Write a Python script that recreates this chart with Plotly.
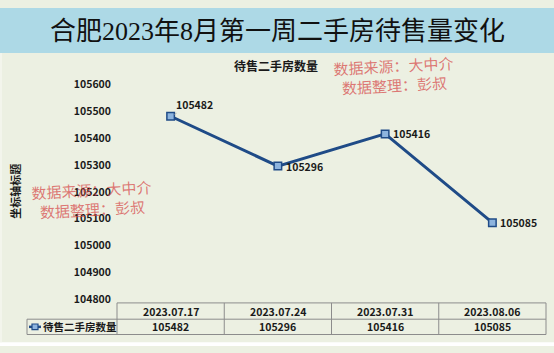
import plotly.graph_objects as go

# ---- data ----
dates = ["2023.07.17", "2023.07.24", "2023.07.31", "2023.08.06"]
values = [105482, 105296, 105416, 105085]
series_name = "待售二手房数量"
title_text = "合肥2023年8月第一周二手房待售量变化"
chart_title = "待售二手房数量"
y_title = "坐标轴标题"
watermark = "数据来源：大中介<br>数据整理：彭叔"
y_ticks = [104800, 104900, 105000, 105100, 105200, 105300, 105400, 105500, 105600]

W, H = 554, 353
def px(x):
    return x / W
def py(y):
    return 1 - y / H

BG = "#ECF0E2"
BANNER = "#ADD9E6"
LINE = "#1F4B87"
MARK = "#8DB4DE"
GRID = "#8C8C8C"
FONT = "Noto Sans CJK SC"

x_left, x_right = 117, 546
y_top, y_bot = 80, 304

fig = go.Figure()
fig.add_trace(go.Scatter(
    x=list(range(len(values))), y=values, mode="lines+markers",
    line=dict(color=LINE, width=3),
    marker=dict(symbol="square", size=7.5, color=MARK, line=dict(color=LINE, width=1.5)),
    showlegend=False, hoverinfo="skip",
))

annotations = []
# data labels
for i, v in enumerate(values):
    if i == 0:
        annotations.append(dict(x=i, y=v, xref="x", yref="y", text=str(v), showarrow=True,
                                arrowhead=0, arrowwidth=0.7, arrowcolor="#A6A6A6",
                                ax=24, ay=-12, standoff=4,
                                font=dict(family=FONT, size=10.5, color="#1A1A1A", weight="bold")))
    else:
        annotations.append(dict(x=i, y=v, xref="x", yref="y", text=str(v), showarrow=False,
                                xanchor="left", xshift=6,
                                font=dict(family=FONT, size=10.5, color="#1A1A1A", weight="bold")))

# title
annotations.append(dict(x=0.5, y=py(25), xref="paper", yref="paper", text=title_text,
                        showarrow=False, xanchor="center", yanchor="middle",
                        font=dict(family="Liberation Serif, " + FONT, size=26, color="#111111")))
# chart title
annotations.append(dict(x=px(276), y=py(60), xref="paper", yref="paper", text=chart_title,
                        showarrow=False, xanchor="center", yanchor="middle",
                        font=dict(family=FONT, size=12, color="#1A1A1A", weight="bold")))
# y axis title
annotations.append(dict(x=px(15), y=py(192), xref="paper", yref="paper", text=y_title,
                        showarrow=False, textangle=-90, xanchor="center", yanchor="middle",
                        font=dict(family=FONT, size=11, color="#1A1A1A", weight="bold")))
# watermarks
for cx, cy in [(394, 72), (92, 202)]:
    annotations.append(dict(x=px(cx), y=py(cy), xref="paper", yref="paper", text=watermark,
                            showarrow=False, xanchor="center", yanchor="middle", align="center",
                            textangle=-3,
                            font=dict(family="Liberation Serif, " + FONT, size=15,
                                      color="rgba(214,72,72,0.72)")))

# table
col_w = (x_right - x_left) / len(dates)
t_top, t_mid, t_bot = 308, 325, 341
label_left = 27
shapes = []
shapes.append(dict(type="rect", xref="paper", yref="paper", x0=0, x1=1, y0=py(47), y1=1,
                   fillcolor=BANNER, line=dict(width=0), layer="below"))
shapes.append(dict(type="rect", xref="paper", yref="paper", x0=0, x1=1, y0=0, y1=py(349),
                   fillcolor="#FFFFFF", line=dict(width=0), layer="below"))
shapes.append(dict(type="rect", xref="paper", yref="paper", x0=0, x1=px(2), y0=py(349), y1=py(47),
                   fillcolor="#F3F5EC", line=dict(width=0), layer="below"))
lc = dict(color=GRID, width=1)
shapes.append(dict(type="line", xref="paper", yref="paper", x0=px(x_left), x1=px(x_right), y0=py(t_top), y1=py(t_top), line=lc))
shapes.append(dict(type="line", xref="paper", yref="paper", x0=px(label_left), x1=px(x_right), y0=py(t_mid), y1=py(t_mid), line=lc))
shapes.append(dict(type="line", xref="paper", yref="paper", x0=px(label_left), x1=px(x_right), y0=py(t_bot), y1=py(t_bot), line=lc))
shapes.append(dict(type="line", xref="paper", yref="paper", x0=px(label_left), x1=px(label_left), y0=py(t_mid), y1=py(t_bot), line=lc))
for k in range(len(dates) + 1):
    xx = x_left + k * col_w
    shapes.append(dict(type="line", xref="paper", yref="paper", x0=px(xx), x1=px(xx), y0=py(t_top), y1=py(t_bot), line=lc))
for i, (d, v) in enumerate(zip(dates, values)):
    cx = x_left + (i + 0.5) * col_w
    annotations.append(dict(x=px(cx), y=py((t_top + t_mid) / 2), xref="paper", yref="paper", text=d,
                            showarrow=False, xanchor="center", yanchor="middle",
                            font=dict(family=FONT, size=10.5, color="#1A1A1A", weight="bold")))
    annotations.append(dict(x=px(cx), y=py((t_mid + t_bot) / 2), xref="paper", yref="paper", text=str(v),
                            showarrow=False, xanchor="center", yanchor="middle",
                            font=dict(family=FONT, size=10.5, color="#1A1A1A", weight="bold")))
# legend key in table
ly = (t_mid + t_bot) / 2
shapes.append(dict(type="line", xref="paper", yref="paper", x0=px(29), x1=px(41), y0=py(ly), y1=py(ly),
                   line=dict(color=LINE, width=2.5)))
shapes.append(dict(type="rect", xref="paper", yref="paper", x0=px(32), x1=px(38), y0=py(ly - 3), y1=py(ly + 3),
                   fillcolor=MARK, line=dict(color=LINE, width=1.2)))
annotations.append(dict(x=px(41), y=py(ly), xref="paper", yref="paper", text=series_name,
                        showarrow=False, xanchor="left", yanchor="middle",
                        font=dict(family=FONT, size=10.5, color="#1A1A1A", weight="bold")))

fig.update_layout(
    width=W, height=H, margin=dict(l=0, r=0, t=0, b=0),
    paper_bgcolor=BG, plot_bgcolor=BG,
    xaxis=dict(domain=[px(x_left), px(x_right)], range=[-0.5, len(dates) - 0.5],
               showgrid=False, zeroline=False, showticklabels=False, showline=False),
    yaxis=dict(domain=[py(y_bot), py(y_top)], range=[y_ticks[0], y_ticks[-1]],
               tickvals=y_ticks, ticktext=[str(t) for t in y_ticks],
               showgrid=False, zeroline=False, showline=False, ticks="",
               ticklabelstandoff=5,
               tickfont=dict(family=FONT, size=10.5, color="#1A1A1A", weight="bold")),
    shapes=shapes, annotations=annotations, showlegend=False,
)

fig.write_html("out.html")
